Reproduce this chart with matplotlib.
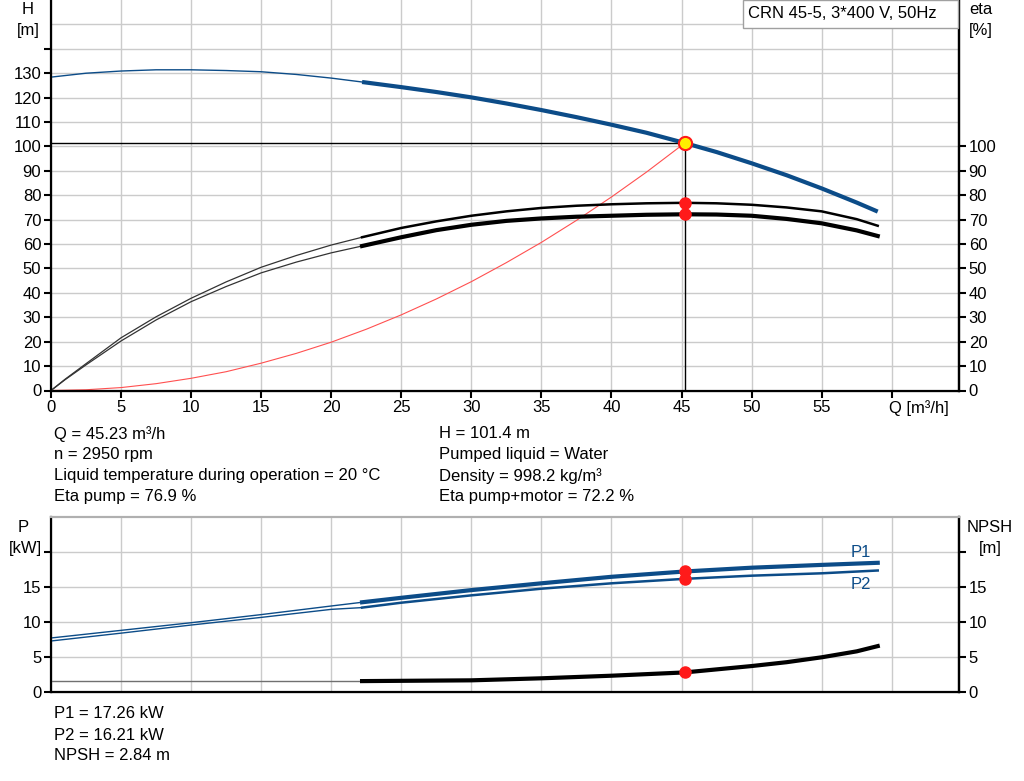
import matplotlib
matplotlib.use("Agg")
import matplotlib.pyplot as plt
from matplotlib.patches import Rectangle

plt.rcParams['font.family'] = ['Liberation Sans', 'DejaVu Sans']
plt.rcParams['font.size'] = 12

# --- data ---
q_h_thin = [0, 2.5, 5, 7.5, 10, 12.5, 15, 17.5, 20, 22.2]
h_thin = [128.4, 130.0, 130.9, 131.4, 131.4, 131.1, 130.6, 129.5, 128.0, 126.4]
q_h = [22.2, 25, 27.5, 30, 32.5, 35, 37.5, 40, 42.5, 45.23, 47.5, 50, 52.5, 55, 57.5, 59]
h_thick = [126.4, 124.3, 122.3, 120.1, 117.6, 114.9, 112.0, 108.9, 105.6, 101.4,
           97.7, 93.1, 88.2, 82.8, 77.0, 73.3]

q_eta_thin = [0, 1, 2.5, 5, 7.5, 10, 12.5, 15, 17.5, 20, 22.2]
eta_pump_thin = [0, 4.6, 11.0, 21.6, 30.2, 37.8, 44.5, 50.5, 55.3, 59.6, 62.8]
eta_tot_thin = [0, 4.4, 10.5, 20.3, 28.9, 36.4, 42.6, 48.2, 52.6, 56.4, 59.2]
q_eta = [22.2, 25, 27.5, 30, 32.5, 35, 37.5, 40, 42.5, 45.23, 47.5, 50, 52.5, 55, 57.5, 59]
eta_pump = [62.8, 66.6, 69.3, 71.6, 73.4, 74.8, 75.7, 76.3, 76.7, 76.9,
            76.7, 76.1, 75.0, 73.4, 70.2, 67.5]
eta_tot = [59.2, 62.8, 65.7, 67.9, 69.5, 70.5, 71.2, 71.6, 72.0, 72.2,
           72.1, 71.6, 70.3, 68.5, 65.6, 63.3]

q_sys = [0, 2.5, 5, 7.5, 10, 12.5, 15, 17.5, 20, 22.5, 25, 27.5, 30, 32.5,
         35, 37.5, 40, 42.5, 45.23]
h_sys = [0, 0.3, 1.2, 2.8, 5.0, 7.7, 11.2, 15.2, 19.8, 25.1, 31.0, 37.5, 44.6,
         52.4, 60.7, 69.7, 79.3, 89.5, 101.4]

q_p_thin = [0, 5, 10, 15, 20, 22.2]
p1_thin = [7.76, 8.85, 9.94, 11.1, 12.33, 12.86]
p2_thin = [7.33, 8.45, 9.61, 10.7, 11.85, 12.1]
q_p = [22.2, 25, 30, 35, 40, 45.23, 50, 55, 59]
p1 = [12.86, 13.5, 14.6, 15.57, 16.5, 17.26, 17.8, 18.2, 18.5]
p2 = [12.1, 12.8, 13.85, 14.8, 15.57, 16.21, 16.66, 17.0, 17.4]

q_npsh_thin = [0, 22.2]
npsh_thin = [1.6, 1.6]
q_npsh = [22.2, 30, 35, 40, 45.23, 50, 52.5, 55, 57.5, 59]
npsh = [1.6, 1.71, 2.0, 2.37, 2.84, 3.75, 4.3, 5.0, 5.85, 6.6]

q_op, h_op, eta_p_op, eta_t_op = 45.23, 101.4, 76.9, 72.2
p1_op, p2_op, npsh_op = 17.26, 16.21, 2.84

info_left = ["Q = 45.23 m³/h", "n = 2950 rpm",
             "Liquid temperature during operation = 20 °C", "Eta pump = 76.9 %"]
info_right = ["H = 101.4 m", "Pumped liquid = Water",
              "Density = 998.2 kg/m³", "Eta pump+motor = 72.2 %"]
info_bottom = ["P1 = 17.26 kW", "P2 = 16.21 kW", "NPSH = 2.84 m"]

blue = '#0c4c88'
grid_c = '#cbcbcb'
W, H = 1024, 781


def px(x, y):
    return x / W, 1 - y / H


fig = plt.figure(figsize=(10.24, 7.81), dpi=100)

# ---------------- top panel ----------------
ax = fig.add_axes([51 / W, 1 - 390.5 / H, 908 / W, 390.5 / H])
ax.set_xlim(0, 64.8)
ax.set_ylim(0, 160)
for v in range(5, 65, 5):
    ax.axvline(v, color=grid_c, lw=1, zorder=0)
for v in range(10, 160, 10):
    ax.axhline(v, color=grid_c, lw=1, zorder=0)

ax.plot([0, q_op], [h_op, h_op], color='black', lw=1, zorder=2)
ax.plot([q_op, q_op], [0, h_op], color='black', lw=1, zorder=2)
ax.plot(q_sys, h_sys, color='#ff5050', lw=0.8, zorder=2)

ax.plot(q_h_thin, h_thin, color=blue, lw=1, zorder=3)
ax.plot(q_h, h_thick, color=blue, lw=3, zorder=3, solid_capstyle='butt')
ax.plot(q_eta_thin, eta_pump_thin, color='#333333', lw=0.9, zorder=3)
ax.plot(q_eta_thin, eta_tot_thin, color='#333333', lw=0.9, zorder=3)
ax.plot(q_eta, eta_pump, color='black', lw=1.8, zorder=3)
ax.plot(q_eta, eta_tot, color='black', lw=3, zorder=3)

ax.plot([q_op], [h_op], 'o', ms=9.5, mfc='#ffee00', mec='#ff1a1a', mew=1.5, zorder=5)
ax.plot([q_op, q_op], [eta_p_op, eta_t_op], 'o', ms=8, color='#ff1a1a', zorder=5)

ax.set_yticks(range(0, 150, 10))
ax.set_yticklabels([str(v) for v in range(0, 140, 10)] + [''])
ax.set_xticks(range(0, 65, 5))
ax.set_xticklabels([str(v) for v in range(0, 60, 5)] + [''])
ax.tick_params(direction='out', length=5, width=1.5, labelsize=12, pad=2)
for s in ['left', 'bottom']:
    ax.spines[s].set_linewidth(1.6)
ax.spines['top'].set_visible(False)
ax.spines['right'].set_linewidth(1.6)

axr = ax.twinx()
axr.set_ylim(0, 160)
axr.set_yticks(range(0, 110, 10))
axr.tick_params(direction='out', length=5, width=1.5, labelsize=12, pad=2)
axr.spines['top'].set_visible(False)
axr.spines['right'].set_linewidth(1.6)

fig.text(*px(889, 408), "Q [m³/h]", ha='left', va='center')
fig.text(*px(28, 10), "H", ha='center', va='center')
fig.text(*px(28, 31), "[m]", ha='center', va='center')
fig.text(*px(981, 10), "eta", ha='center', va='center')
fig.text(*px(981, 31), "[%]", ha='center', va='center')

fig.patches.append(Rectangle(px(743, 28), 215 / W, 28 / H, transform=fig.transFigure,
                             facecolor='white', edgecolor='#a0a0a0', lw=1, zorder=10))
fig.text(*px(748, 14), "CRN 45-5, 3*400 V, 50Hz", ha='left', va='center', zorder=11)

for i, t in enumerate(info_left):
    fig.text(*px(54, 434 + 21 * i), t, ha='left', va='center')
for i, t in enumerate(info_right):
    fig.text(*px(439, 434 + 21 * i), t, ha='left', va='center')

# ---------------- bottom panel ----------------
bx = fig.add_axes([51 / W, 1 - 692.3 / H, 908 / W, 175 / H])
bx.set_xlim(0, 64.8)
bx.set_ylim(0, 25)
for v in range(5, 65, 5):
    bx.axvline(v, color=grid_c, lw=1, zorder=0)
for v in range(5, 25, 5):
    bx.axhline(v, color=grid_c, lw=1, zorder=0)

bx.plot(q_p_thin, p1_thin, color=blue, lw=1, zorder=3)
bx.plot(q_p_thin, p2_thin, color=blue, lw=1, zorder=3)
bx.plot(q_p, p1, color=blue, lw=3, zorder=3)
bx.plot(q_p, p2, color=blue, lw=1.8, zorder=3)
bx.plot(q_npsh_thin, npsh_thin, color='#707070', lw=1, zorder=3)
bx.plot(q_npsh, npsh, color='black', lw=3, zorder=3)
bx.plot([q_op, q_op, q_op], [p1_op, p2_op, npsh_op], 'o', ms=8, color='#ff1a1a', zorder=5)

bx.text(57.8, 20.0, "P1", color=blue, ha='center', va='center')
bx.text(57.8, 15.4, "P2", color=blue, ha='center', va='center')

bx.set_yticks(range(0, 25, 5))
bx.set_yticklabels(['0', '5', '10', '15', ''])
bx.set_xticks([])
bx.tick_params(direction='out', length=5, width=1.5, labelsize=12, pad=2)
for s in ['left', 'bottom']:
    bx.spines[s].set_linewidth(1.6)
bx.spines['top'].set_color('#b0b0b0')
bx.spines['top'].set_linewidth(1.5)
bx.spines['right'].set_linewidth(1.6)

bxr = bx.twinx()
bxr.set_ylim(0, 25)
bxr.set_yticks(range(0, 25, 5))
bxr.set_yticklabels(['0', '5', '10', '15', ''])
bxr.tick_params(direction='out', length=5, width=1.5, labelsize=12, pad=2)
bxr.spines['top'].set_color('#b0b0b0')
bxr.spines['top'].set_linewidth(1.5)
bxr.spines['right'].set_linewidth(1.6)

fig.text(*px(23, 527), "P", ha='center', va='center')
fig.text(*px(25, 548), "[kW]", ha='center', va='center')
fig.text(*px(990, 527), "NPSH", ha='center', va='center')
fig.text(*px(990, 548), "[m]", ha='center', va='center')

for i, t in enumerate(info_bottom):
    fig.text(*px(54, 714 + 21 * i), t, ha='left', va='center')

fig.savefig("out.png", dpi=100)
